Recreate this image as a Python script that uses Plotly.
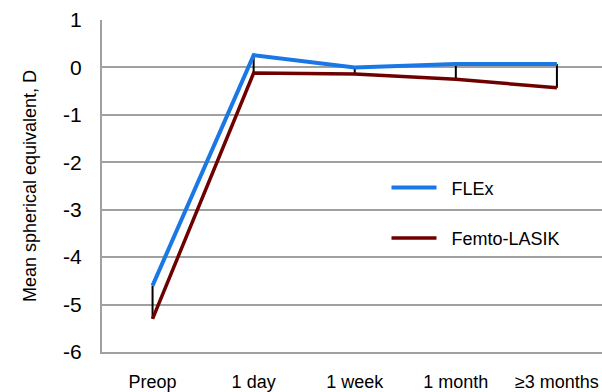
import plotly.graph_objects as go

# Follow-up time points
categories = ["Preop", "1 day", "1 week", "1 month", "≥3 months"]

# Mean spherical equivalent (D) per group
flex_values = [-4.60, 0.26, 0.00, 0.07, 0.07]
femto_lasik_values = [-5.30, -0.12, -0.14, -0.25, -0.43]

y_ticks = [1, 0, -1, -2, -3, -4, -5, -6]

FONT = "Liberation Sans, Arial, sans-serif"
BLUE = "#1a78e6"
DARK_RED = "#6e0000"
GRID = "#a0a0a0"

fig = go.Figure()

# High-low connectors between the two groups at each time point
hl_x, hl_y = [], []
for i, c in enumerate(categories):
    hl_x += [i, i, None]
    hl_y += [flex_values[i], femto_lasik_values[i], None]
fig.add_trace(go.Scatter(
    x=hl_x, y=hl_y, mode="lines",
    line=dict(color="black", width=2),
    showlegend=False, hoverinfo="skip",
))

fig.add_trace(go.Scatter(
    x=list(range(len(categories))), y=flex_values, mode="lines",
    name="\u00a0\u00a0FLEx", line=dict(color=BLUE, width=4),
    legendgroup="a",
))
fig.add_trace(go.Scatter(
    x=list(range(len(categories))), y=femto_lasik_values, mode="lines",
    name="\u00a0\u00a0Femto-LASIK", line=dict(color=DARK_RED, width=3.5),
    legendgroup="b",
))

fig.update_layout(
    width=602, height=392,
    margin=dict(l=102, r=0, t=20, b=37),
    paper_bgcolor="white", plot_bgcolor="white",
    font=dict(family=FONT, color="black"),
    showlegend=True,
    legend=dict(
        x=0.569, y=0.55, xanchor="left", yanchor="top",
        bgcolor="rgba(0,0,0,0)", font=dict(size=18, family=FONT),
        tracegroupgap=24, itemwidth=45,
    ),
    xaxis=dict(
        range=[-0.5, 4.446],
        tickmode="array", tickvals=list(range(len(categories))),
        ticktext=categories,
        tickfont=dict(size=18, family=FONT),
        showgrid=False, zeroline=False,
        showline=True, linecolor=GRID, linewidth=2,
        ticks="", ticklabelstandoff=12,
    ),
    yaxis=dict(
        range=[-6, 1],
        tickmode="array", tickvals=y_ticks,
        ticktext=[str(v) for v in y_ticks],
        tickfont=dict(size=21, family=FONT),
        showgrid=True, gridcolor=GRID, gridwidth=1.5,
        zeroline=False,
        showline=True, linecolor=GRID, linewidth=2,
        ticks="", ticklabelstandoff=14,
        title=dict(text="Mean spherical equivalent, D",
                   font=dict(size=18, family=FONT), standoff=22),
    ),
)

fig.write_html("out.html")
